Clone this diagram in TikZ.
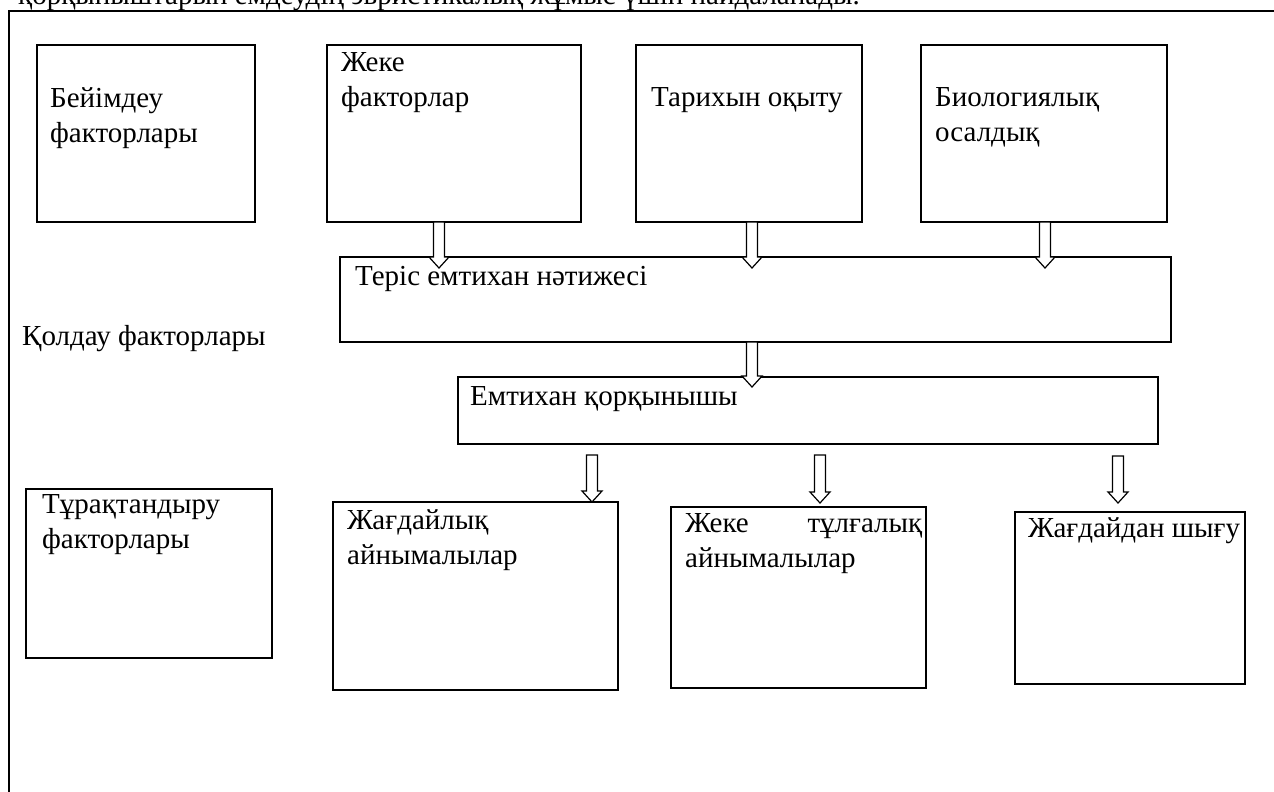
\documentclass[tikz,border=0pt]{standalone}
\usepackage{fontspec}
\setmainfont{Liberation Serif}
\usetikzlibrary{calc}
\tikzset{
  box/.style={draw, line width=1.6pt, anchor=north west, inner sep=0pt, outer sep=0pt},
  lbl/.style={anchor=base west, inner sep=0pt, font=\fontsize{29}{35}\selectfont, align=left},
  harrow/.style={draw, line width=1.2pt, fill=white},
}
\newcommand\hollowarrow[2]{%
  \path[harrow] let \p1=(#1), \p2=(#2) in
    (\x1-5.5pt,\y1) -- (\x1+5.5pt,\y1) -- (\x1+5.5pt,\y2+11pt) -- (\x1+10pt,\y2+11pt)
    -- (\x1,\y2) -- (\x1-10pt,\y2+11pt) -- (\x1-5.5pt,\y2+11pt) -- cycle;}
\begin{document}
\begin{tikzpicture}[x=1pt,y=-1pt]
\useasboundingbox (0,0) rectangle (1274,792);
\clip (0,0) rectangle (1274,792);
% outer frame (continues beyond the picture)
\node[box, line width=2pt, minimum width=1320pt, minimum height=900pt] (frame) at (9,11) {};
\node[lbl] (top) at (18,5) {қорқыныштарын емдеудің эвристикалық жұмыс үшін пайдаланады.};
% boxes
\node[box, minimum width=218pt, minimum height=177pt] (b1) at (37,45) {};
\node[box, minimum width=254pt, minimum height=177pt] (b2) at (327,45) {};
\node[box, minimum width=226pt, minimum height=177pt] (b3) at (636,45) {};
\node[box, minimum width=246pt, minimum height=177pt] (b4) at (921,45) {};
\node[box, minimum width=831pt, minimum height=85pt] (b5) at (340,257) {};
\node[box, minimum width=700pt, minimum height=67pt] (b6) at (458,377) {};
\node[box, minimum width=246pt, minimum height=169pt] (b8) at (26,489) {};
\node[box, minimum width=285pt, minimum height=188pt] (b9) at (333,502) {};
\node[box, minimum width=255pt, minimum height=181pt] (b10) at (671,507) {};
\node[box, minimum width=230pt, minimum height=172pt] (b11) at (1015,512) {};
% texts (y = baseline of the last line)
\node[lbl] (t1) at (50,142) {Бейімдеу\\факторлары};
\node[lbl] (t2) at (341,106) {Жеке\\факторлар};
\node[lbl] (t3) at (651,106) {Тарихын оқыту};
\node[lbl] (t4) at (935,141) {Биологиялық\\осалдық};
\node[lbl] (t5) at (355,285) {Теріс емтихан нәтижесі};
\node[lbl] (t6) at (470,405) {Емтихан қорқынышы};
\node[lbl] (t7) at (22,345) {Қолдау факторлары};
\node[lbl] (t8) at (42,548) {Тұрақтандыру\\факторлары};
\node[lbl] (t9) at (347,564) {Жағдайлық\\айнымалылар};
\node[lbl] (t10) at (685,567) {\hbox to 237pt{Жеке\hfill тұлғалық}\\айнымалылар};
\node[lbl] (t11) at (1028,537) {Жағдайдан шығу};
% arrow end points
\coordinate (a1s) at ($(b2.south west)+(112,0)$);
\coordinate (a1e) at ($(a1s |- b5.north)+(0,11)$);
\coordinate (a2s) at ($(b3.south west)+(116,0)$);
\coordinate (a2e) at ($(a2s |- b5.north)+(0,11)$);
\coordinate (a3s) at ($(b4.south west)+(124,0)$);
\coordinate (a3e) at ($(a3s |- b5.north)+(0,11)$);
\coordinate (a4s) at ($(b5.south west)+(412,0)$);
\coordinate (a4e) at ($(a4s |- b6.north)+(0,10)$);
\coordinate (a5s) at ($(b6.south west)+(134,11)$);
\coordinate (a5e) at (a5s |- b9.north);
\coordinate (a6s) at ($(b6.south west)+(362,11)$);
\coordinate (a6e) at ($(a6s |- b10.north)+(0,-4)$);
\coordinate (a7s) at ($(b6.south west)+(660,12)$);
\coordinate (a7e) at ($(a7s |- b11.north)+(0,-9)$);
\hollowarrow{a1s}{a1e}
\hollowarrow{a2s}{a2e}
\hollowarrow{a3s}{a3e}
\hollowarrow{a4s}{a4e}
\hollowarrow{a5s}{a5e}
\hollowarrow{a6s}{a6e}
\hollowarrow{a7s}{a7e}
\end{tikzpicture}
\end{document}
